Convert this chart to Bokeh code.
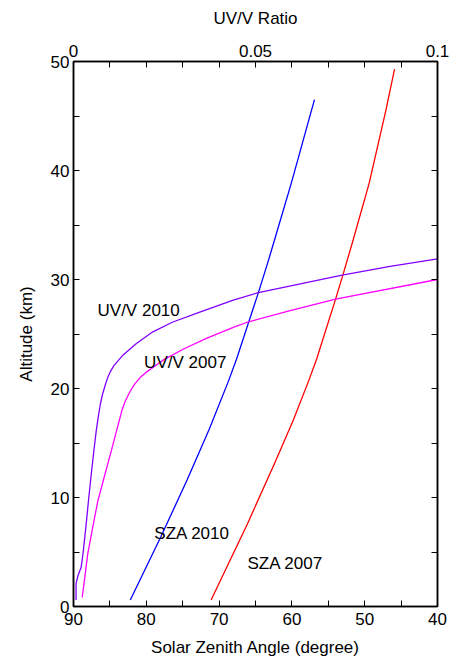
from bokeh.plotting import figure
from bokeh.models import Range1d, LinearAxis, FixedTicker, Label, CustomJSTickFormatter
from bokeh.embed import file_html
from bokeh.resources import INLINE

# ---- data ----
sza2010_alt = [0.6, 6.4, 11.6, 16.2, 20.7, 22.7, 28.8, 31.8, 33.6, 38.8, 46.5]
sza2010_val = [82.2, 78.0, 74.4, 71.4, 68.7, 67.6, 64.6, 63.2, 62.4, 60.1, 56.9]

sza2007_alt = [0.6, 7.6, 13.1, 17.1, 20.7, 22.7, 28.2, 30.4, 33.6, 38.8, 45.5, 49.3]
sza2007_val = [71.1, 66.1, 62.4, 59.8, 57.7, 56.6, 54.0, 53.0, 51.6, 49.4, 47.1, 45.9]

uv2010_alt = [0.6, 2.1, 2.8, 3.6, 4.8, 7.6, 10.0, 12.2, 14.3, 16.0, 17.4, 18.6, 19.5, 20.3,
              21.0, 21.6, 22.1, 23.0, 24.1, 25.2, 26.1, 27.0, 28.1, 28.8, 30.4, 31.2, 31.9]
uv2010_val = [0.0007, 0.0007, 0.0012, 0.0021, 0.0026, 0.0035, 0.0042, 0.0049, 0.0056, 0.0062,
              0.0068, 0.0074, 0.0080, 0.0087, 0.0094, 0.0102, 0.0111, 0.0134, 0.0172, 0.0218,
              0.0273, 0.0347, 0.0439, 0.0508, 0.0738, 0.0870, 0.1000]

uv2007_alt = [0.85, 2.4, 4.8, 7.3, 9.7, 12.2, 14.3, 15.2, 17.1, 18.0, 18.9, 19.7, 20.4, 21.0,
              21.5, 22.6, 23.6, 24.6, 25.6, 26.1, 27.1, 28.2, 30.0]
uv2007_val = [0.0024, 0.0030, 0.0039, 0.0053, 0.0067, 0.0087, 0.0104, 0.0111, 0.0126, 0.0133,
              0.0143, 0.0155, 0.0168, 0.0183, 0.0200, 0.0246, 0.0301, 0.0365, 0.0439, 0.0479,
              0.0590, 0.0720, 0.1000]

sza_ticks = [90, 80, 70, 60, 50, 40]
sza_minor = [85, 75, 65, 55, 45]
alt_ticks = [0, 10, 20, 30, 40, 50]
alt_minor = [5, 15, 25, 35, 45]
alt_all = [0, 5, 10, 15, 20, 25, 30, 35, 40, 45, 50]
uv_ticks = [0, 0.05, 0.1]
uv_minor = [0.01, 0.02, 0.03, 0.04, 0.06, 0.07, 0.08, 0.09]

FONT = "Liberation Sans"
FS = "17px"

p = figure(frame_width=364, frame_height=545,
           x_range=Range1d(90, 40), y_range=Range1d(0, 50),
           output_backend="svg", toolbar_location=None,
           min_border_left=73, min_border_top=61, min_border_right=12, min_border_bottom=0)
p.extra_x_ranges = {"uv": Range1d(0, 0.1)}

p.xgrid.visible = False
p.ygrid.visible = False
p.outline_line_color = "black"
p.outline_line_width = 1.5
p.background_fill_color = "white"
p.border_fill_color = "white"


def style(ax, ticks, minor):
    ax.ticker = FixedTicker(ticks=ticks, minor_ticks=minor)
    ax.major_tick_in = 6
    ax.major_tick_out = 0
    ax.minor_tick_in = 6
    ax.minor_tick_out = 0
    ax.axis_line_color = "black"
    ax.axis_line_width = 1.5
    ax.major_tick_line_color = "black"
    ax.minor_tick_line_color = "black"
    ax.major_label_text_font = FONT
    ax.major_label_text_font_size = FS
    ax.major_label_text_color = "black"
    ax.axis_label_text_font = FONT
    ax.axis_label_text_font_size = FS
    ax.axis_label_text_font_style = "normal"
    ax.axis_label_text_color = "black"


xax = p.xaxis[0]
style(xax, sza_ticks, sza_minor)
xax.axis_label = "Solar Zenith Angle (degree)"
xax.major_label_standoff = 6
xax.axis_label_standoff = 10

yax = p.yaxis[0]
style(yax, alt_ticks, alt_minor)
yax.axis_label = "Altitude (km)"
yax.major_label_standoff = 4
yax.axis_label_standoff = 12

top = LinearAxis(x_range_name="uv", axis_label="UV/V Ratio")
style(top, uv_ticks, uv_minor)
top.formatter = CustomJSTickFormatter(code="return String(Math.round(tick*100)/100);")
top.major_label_standoff = 5
top.axis_label_standoff = 14
p.add_layout(top, "above")

right = LinearAxis()
style(right, [], alt_all)
right.major_label_standoff = 0
p.add_layout(right, "right")

LW = 1.3
p.line(sza2010_val, sza2010_alt, line_color="#0000FF", line_width=LW)
p.line(sza2007_val, sza2007_alt, line_color="#FF0000", line_width=LW)
p.line(uv2010_val, uv2010_alt, line_color="#8000FF", line_width=LW, x_range_name="uv")
p.line(uv2007_val, uv2007_alt, line_color="#FF00FF", line_width=LW, x_range_name="uv")

for txt, x, y in [("UV/V 2010", 86.7, 27.2), ("UV/V 2007", 80.3, 22.4),
                  ("SZA 2010", 78.9, 6.7), ("SZA 2007", 66.1, 3.9)]:
    p.add_layout(Label(x=x, y=y, text=txt, text_font=FONT, text_font_size=FS,
                       text_baseline="middle", text_align="left", text_color="black"))

open("out.html", "w").write(file_html(p, INLINE))
